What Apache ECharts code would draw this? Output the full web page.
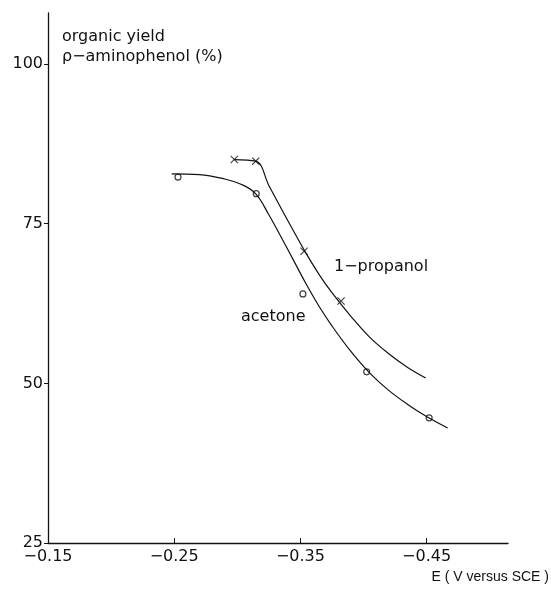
<!DOCTYPE html>
<html lang="en">
<head>
    <meta charset="UTF-8">
    <title>organic yield p-aminophenol</title>
    <style>
        body { margin: 0; background: #fff; }
        #chart { width: 551px; height: 593px; }
    </style>
    <script type="text/javascript" src="https://cdn.jsdelivr.net/npm/echarts@6.0.0/dist/echarts.min.js"></script>
</head>
<body>
<div id="chart"></div>
<script>
    // measured points (E in V versus SCE, yield in %)
    var acetoneE = [-0.253, -0.315, -0.352, -0.4025, -0.452];
    var acetoneY = [82.3, 79.7, 64.0, 51.8, 44.6];
    var propanolE = [-0.2976, -0.3146, -0.3529, -0.3822];
    var propanolY = [85.05, 84.8, 70.7, 62.9];

    // hand drawn curves
    var acetoneCurveE = [-0.248, -0.27, -0.29, -0.305, -0.315, -0.325, -0.335, -0.345, -0.355, -0.365, -0.375, -0.39, -0.405, -0.42, -0.435, -0.45, -0.4667];
    var acetoneCurveY = [82.8, 82.7, 82.0, 81.0, 79.6, 76.4, 72.8, 69.1, 65.4, 62.0, 59.0, 55.0, 51.6, 48.9, 46.7, 44.8, 43.0];
    var propanolCurveE = [-0.2976, -0.3146, -0.325, -0.335, -0.345, -0.355, -0.365, -0.375, -0.39, -0.405, -0.42, -0.435, -0.4493];
    var propanolCurveY = [85.05, 84.8, 81.0, 77.3, 73.7, 70.2, 67.0, 64.2, 60.5, 57.2, 54.65, 52.5, 50.85];

    // tick labels
    var xTicks = [-0.15, -0.25, -0.35, -0.45];
    var yTicks = [25, 50, 75, 100];

    function pairs(xs, ys) {
        var out = [];
        for (var i = 0; i < xs.length; i++) out.push([xs[i], ys[i]]);
        return out;
    }

    var ink = '#111';
    var font = 'DejaVu Sans';
    // an "x" marker as a filled outline
    var cross = 'path://M0,1L1,0L5,4L9,0L10,1L6,5L10,9L9,10L5,6L1,10L0,9L4,5Z';

    var chart = echarts.init(document.getElementById('chart'));
    var option = {
        animation: false,
        backgroundColor: '#fff',
        grid: { left: 48, right: 43, top: 13, bottom: 50 },
        xAxis: {
            type: 'value',
            inverse: true,
            min: -0.5145,
            max: -0.15,
            axisLine: { lineStyle: { color: ink, width: 1.3 } },
            axisTick: { inside: true, length: 5, customValues: xTicks, lineStyle: { color: ink } },
            axisLabel: {
                customValues: xTicks,
                color: ink, fontFamily: font, fontSize: 16, margin: 6,
                formatter: function (v) { return '\u2212' + Math.abs(v).toFixed(2); }
            },
            splitLine: { show: false }
        },
        yAxis: {
            type: 'value',
            min: 25,
            max: 108,
            axisLine: { show: true, lineStyle: { color: ink, width: 1.3 } },
            axisTick: { show: true, length: 4, customValues: yTicks, lineStyle: { color: ink } },
            axisLabel: { customValues: yTicks, color: ink, fontFamily: font, fontSize: 16, margin: 5 },
            splitLine: { show: false }
        },
        graphic: [
            { type: 'text', left: 62, top: 29, style: { text: 'organic yield', fill: ink, font: '16px "DejaVu Sans"' } },
            { type: 'text', left: 62, top: 49, style: { text: '\u03c1\u2212aminophenol (%)', fill: ink, font: '16px "DejaVu Sans"' } },
            { type: 'text', right: 2, top: 570, style: { text: 'E ( V versus SCE )', fill: ink, font: '14px "Liberation Sans"' } },
            { type: 'text', left: 334, top: 259, style: { text: '1\u2212propanol', fill: ink, font: '16px "DejaVu Sans"' } },
            { type: 'text', left: 241, top: 309, style: { text: 'acetone', fill: ink, font: '16px "DejaVu Sans"' } }
        ],
        series: [
            {
                name: 'acetone curve', type: 'line', data: pairs(acetoneCurveE, acetoneCurveY),
                showSymbol: false, smooth: 0.4, lineStyle: { color: ink, width: 1.2 }
            },
            {
                name: '1-propanol curve', type: 'line', data: pairs(propanolCurveE, propanolCurveY),
                showSymbol: false, smooth: 0.4, lineStyle: { color: ink, width: 1.2 }
            },
            {
                name: 'acetone', type: 'scatter', data: pairs(acetoneE, acetoneY),
                symbol: 'circle', symbolSize: 6,
                itemStyle: { color: '#fff', borderColor: ink, borderWidth: 1.2 }
            },
            {
                name: '1-propanol', type: 'scatter', data: pairs(propanolE, propanolY),
                symbol: cross, symbolSize: 8,
                itemStyle: { color: ink }
            }
        ]
    };
    chart.setOption(option);
</script>
</body>
</html>
